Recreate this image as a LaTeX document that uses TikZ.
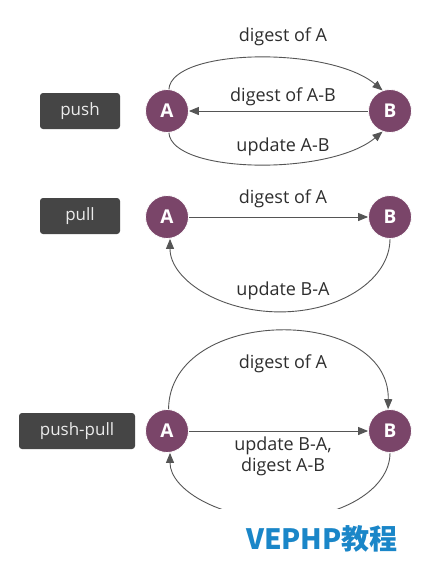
\documentclass[tikz,border=0pt]{standalone}
\usepackage{fontspec}
\setmainfont{Open Sans}
\newfontfamily\cjkfont{Noto Sans CJK SC}
\usetikzlibrary{arrows.meta}
\definecolor{nodepurple}{HTML}{7A4569}
\definecolor{boxgray}{HTML}{454545}
\definecolor{linegray}{HTML}{555555}
\definecolor{textgray}{HTML}{2E2E2E}
\definecolor{wmblue}{HTML}{1A86C8}
\tikzset{
  peer/.style={circle,fill=nodepurple,draw=white,line width=0.8pt,minimum size=43pt,inner sep=0pt,
    text=white,font=\fontsize{19}{19}\selectfont\bfseries},
  modebox/.style={rectangle,rounded corners=3pt,fill=boxgray,minimum height=36pt,inner sep=0pt,
    text=white!92!black,font=\fontsize{17}{17}\selectfont},
  lbl/.style={text=textgray,font=\fontsize{18}{21}\selectfont,inner sep=0pt,align=center},
  conn/.style={draw=linegray,line width=0.9pt,-{Triangle[length=10pt,width=8pt]}},
}
\begin{document}
\begin{tikzpicture}[x=1pt,y=-1pt]
\useasboundingbox[fill=white] (0,0) rectangle (435,570);
% ---- push ----
\node[modebox,minimum width=80pt] (m1) at (80,111) {push};
\node[peer] (a1) at (167,111) {A};
\node[peer] (b1) at (390,111) {B};
\draw[conn] (a1.85) .. controls (172,48) and (330,46) .. (b1.110);
\draw[conn] (b1) -- (a1);
\draw[conn] (a1.-85) .. controls (172,174) and (330,176) .. (b1.-110);
\node[lbl] (l1a) at (283,37) {digest of A};
\node[lbl] (l1b) at (283,97) {digest of A-B};
\node[lbl] (l1c) at (283,147) {update A-B};
% ---- pull ----
\node[modebox,minimum width=80pt] (m2) at (80,216) {pull};
\node[peer] (a2) at (167,217) {A};
\node[peer] (b2) at (390,217) {B};
\draw[conn] (a2) -- (b2);
\draw[conn] (b2.-90) arc[start angle=0,end angle=-180,x radius=110pt,y radius=73pt];
\node[lbl] (l2a) at (283,199) {digest of A};
\node[lbl] (l2b) at (283,291) {update B-A};
% ---- push-pull ----
\node[modebox,minimum width=116pt] (m3) at (77,431) {push-pull};
\node[peer] (a3) at (167,431) {A};
\node[peer] (b3) at (390,431) {B};
\draw[conn] (a3.86) .. controls (170,305) and (390,305) .. (b3.95);
\draw[conn] (a3) -- (b3);
\begin{scope}
\clip (0,0) rectangle (435,508);
\draw[conn] (b3.-90) arc[start angle=0,end angle=-180,x radius=110pt,y radius=66pt];
\end{scope}
\node[lbl] (l3a) at (283,364) {digest of A};
\node[lbl] (l3b) at (283,456) {update B-A,\\digest A-B};
% ---- watermark ----
\node[text=wmblue,font=\cjkfont\fontsize{28}{28}\selectfont\bfseries,inner sep=0pt] (wm) at (322,539) {VEPHP教程};
\end{tikzpicture}
\end{document}
